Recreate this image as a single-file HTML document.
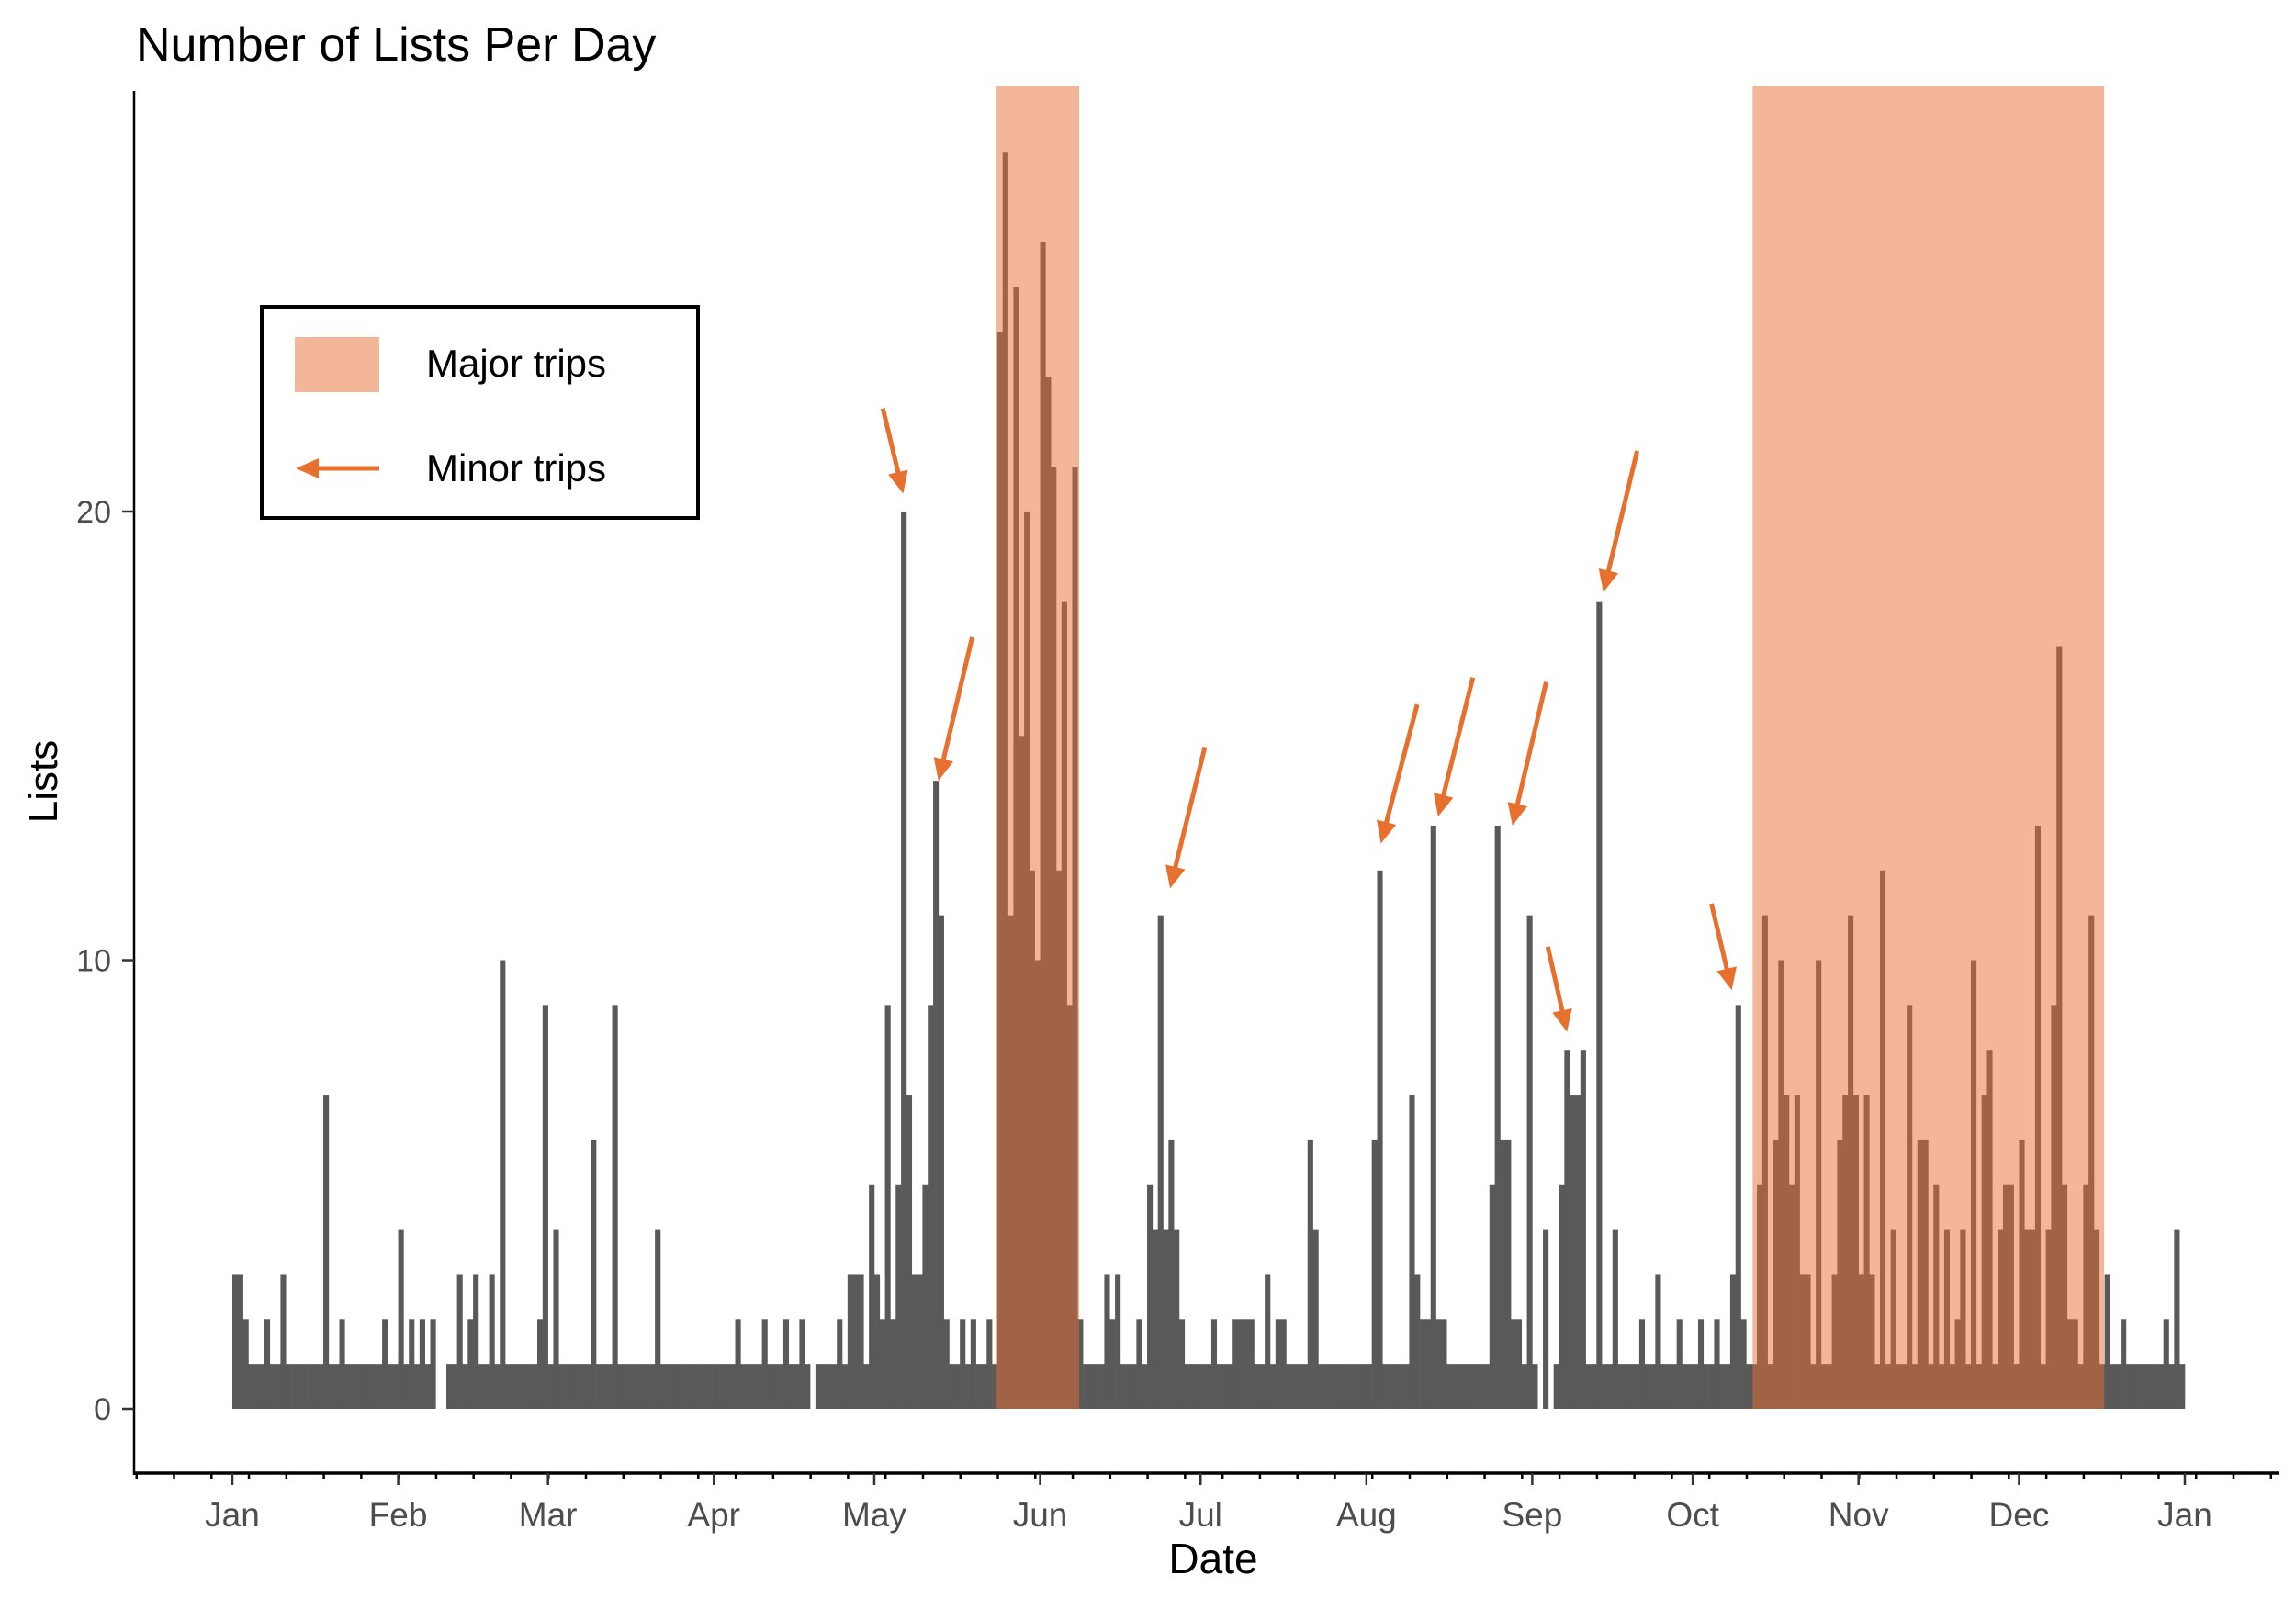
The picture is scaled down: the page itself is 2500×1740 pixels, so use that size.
<!DOCTYPE html>
<html><head><meta charset="utf-8">
<style>
html,body{margin:0;padding:0;background:#fff;}
svg{display:block;}
text{font-family:"Liberation Sans",Arial,sans-serif;}
</style></head>
<body>
<svg id="chart" width="2500" height="1740" viewBox="0 0 2500 1740" xmlns="http://www.w3.org/2000/svg">
<rect x="0" y="0" width="2500" height="1740" fill="#fff"/>
<text x="148" y="66" font-size="52" fill="#000">Number of Lists Per Day</text>
<g id="bars"></g>
<g id="shades"></g>
<g id="arrows"></g>
<g id="axes"></g>
<text transform="translate(62,851) rotate(-90)" text-anchor="middle" font-size="44" fill="#000">Lists</text>
<text x="1321" y="1713" text-anchor="middle" font-size="46" fill="#000">Date</text>
<g>
  <rect x="285" y="334" width="475" height="230" fill="#fff" stroke="#000" stroke-width="4"/>
  <rect x="321" y="367" width="92" height="60" fill="rgb(233,109,49)" fill-opacity="0.5"/>
  <text x="464" y="410" font-size="42" fill="#000">Major trips</text>
  <line x1="345" y1="510" x2="413" y2="510" stroke="#E8702F" stroke-width="5"/>
  <polygon points="322,510 347,499 347,521" fill="#E8702F"/>
  <text x="464" y="524" font-size="42" fill="#000">Minor trips</text>
</g>
</svg>
<script>
// Daily list counts, Jan 1 .. Dec 31
const lists = [
 3,3,2,1,1,1,2,1,1,3,1,1,1,1,1,1,1,7,1,1,2,1,1,1,1,1,1,1,2,1,1,
 4,1,2,1,2,1,2,0,0,1,1,3,1,2,3,1,1,3,1,10,1,1,1,1,1,1,2,9,
 1,4,1,1,1,1,1,1,6,1,1,1,9,1,1,1,1,1,1,1,4,1,1,1,1,1,1,1,1,1,1,
 1,1,1,1,2,1,1,1,1,2,1,1,1,2,1,1,2,1,0,1,1,1,1,2,1,3,3,3,1,5,
 3,2,9,2,5,20,7,3,3,5,9,14,11,2,1,1,2,1,2,1,1,2,1,24,28,11,25,15,20,12,10,
 26,23,21,12,18,9,21,2,1,1,1,1,3,2,3,1,1,1,2,1,5,4,11,4,6,4,2,1,1,1,
 1,1,2,1,1,1,2,2,2,2,1,1,3,1,2,2,1,1,1,1,6,4,1,1,1,1,1,1,1,1,1,
 1,6,12,1,1,1,1,1,7,3,2,2,13,2,2,1,1,1,1,1,1,1,1,5,13,6,6,2,2,1,11,
 1,0,4,0,1,5,8,7,7,8,1,1,18,1,1,4,1,1,1,1,2,1,1,3,1,1,1,2,1,1,
 1,2,1,1,2,1,1,3,9,2,1,1,5,11,1,6,10,7,5,7,3,3,1,10,1,1,3,6,7,11,7,
 3,7,3,1,12,1,4,1,1,9,1,6,6,1,5,1,4,1,2,4,1,10,1,7,8,1,4,5,5,1,
 6,4,4,13,1,4,9,17,5,2,2,1,5,11,4,1,3,1,1,2,1,1,1,1,1,1,1,2,1,4,1
];
// Major trip periods (day-of-year start, end)
const tripStart = [142.7, 284.2];
const tripEnd = [158.3, 349.9];
// Minor trip arrows: tail (day, value) -> head (day, value)
const arrowTailDay = [121.6, 138.3, 181.8, 221.5, 231.9, 245.6, 245.9, 262.6, 276.5];
const arrowTailVal = [22.3, 17.2, 14.75, 15.7, 16.3, 16.2, 10.3, 21.35, 11.26];
const arrowHeadDay = [125.4, 132.0, 175.3, 214.7, 225.4, 239.3, 249.5, 256.3, 280.3];
const arrowHeadVal = [20.4, 14.0, 11.6, 12.6, 13.2, 13.0, 8.4, 18.2, 9.33];
const monthLabels = ["Jan","Feb","Mar","Apr","May","Jun","Jul","Aug","Sep","Oct","Nov","Dec","Jan"];
const monthStarts = [0,31,59,90,120,151,181,212,243,273,304,334,365];
const yTicks = [0,10,20];

const NS = "http://www.w3.org/2000/svg";
const X0 = 253, DAYW = 2126/365, Y0 = 1534, UNIT = 48.85;
function x(d){ return X0 + d*DAYW; }
function y(v){ return Y0 - v*UNIT; }
function mk(tag, attrs, parent){
  const e = document.createElementNS(NS, tag);
  for (const k in attrs) e.setAttribute(k, attrs[k]);
  parent.appendChild(e); return e;
}
const bars = document.getElementById('bars');
lists.forEach((v,i)=>{
  if (v<=0) return;
  const r = mk('rect',{x:x(i).toFixed(2), y:y(v).toFixed(2), width:(DAYW+0.3).toFixed(2), height:(v*UNIT).toFixed(2), fill:'#595959'}, bars);
  
  
});
const shades = document.getElementById('shades');
tripStart.forEach((s,i)=>{
  const r = mk('rect',{x:x(s), y:94, width:x(tripEnd[i])-x(s), height:Y0-94, fill:'rgb(233,109,49)', 'fill-opacity':0.5}, shades);
  
  
});
const arrows = document.getElementById('arrows');
arrowTailDay.forEach((td,i)=>{
  const x1=x(td), y1=y(arrowTailVal[i]), x2=x(arrowHeadDay[i]), y2=y(arrowHeadVal[i]);
  const dx=x2-x1, dy=y2-y1, L=Math.hypot(dx,dy), ux=dx/L, uy=dy/L;
  const hl=24, hw=11;
  const bx=x2-ux*hl, by=y2-uy*hl;
  const g = mk('g',{},arrows);
  
  
  mk('line',{x1:x1,y1:y1,x2:bx+ux*2,y2:by+uy*2,stroke:'#E8702F','stroke-width':5},g);
  mk('polygon',{points:`${x2},${y2} ${bx-uy*hw},${by+ux*hw} ${bx+uy*hw},${by-ux*hw}`,fill:'#E8702F'},g);
});
const axes = document.getElementById('axes');
const ya = mk('line',{x1:146,y1:99,x2:146,y2:1606,stroke:'#000','stroke-width':2.5},axes);


const xa = mk('line',{x1:145,y1:1604,x2:2482,y2:1604,stroke:'#000','stroke-width':3.5},axes);


yTicks.forEach(t=>{
  mk('line',{x1:133,y1:y(t),x2:146,y2:y(t),stroke:'#333','stroke-width':2.5},axes);
  const tx = mk('text',{x:121,y:y(t)+12,'text-anchor':'end','font-size':34,fill:'#4d4d4d'},axes);
  tx.textContent = t;
  
  
});
for (let d=-17.9; x(d) < 2482; d+=7){
  if (x(d) < 146) continue;
  mk('line',{x1:x(d),y1:1604,x2:x(d),y2:1610,stroke:'#000','stroke-width':2.5},axes);
}
monthStarts.forEach((d,i)=>{
  mk('line',{x1:x(d),y1:1604,x2:x(d),y2:1617,stroke:'#333','stroke-width':2.5},axes);
  const tx = mk('text',{x:x(d),y:1662,'text-anchor':'middle','font-size':37,fill:'#4d4d4d'},axes);
  tx.textContent = monthLabels[i];
  
  
});
</script>
</body></html>
